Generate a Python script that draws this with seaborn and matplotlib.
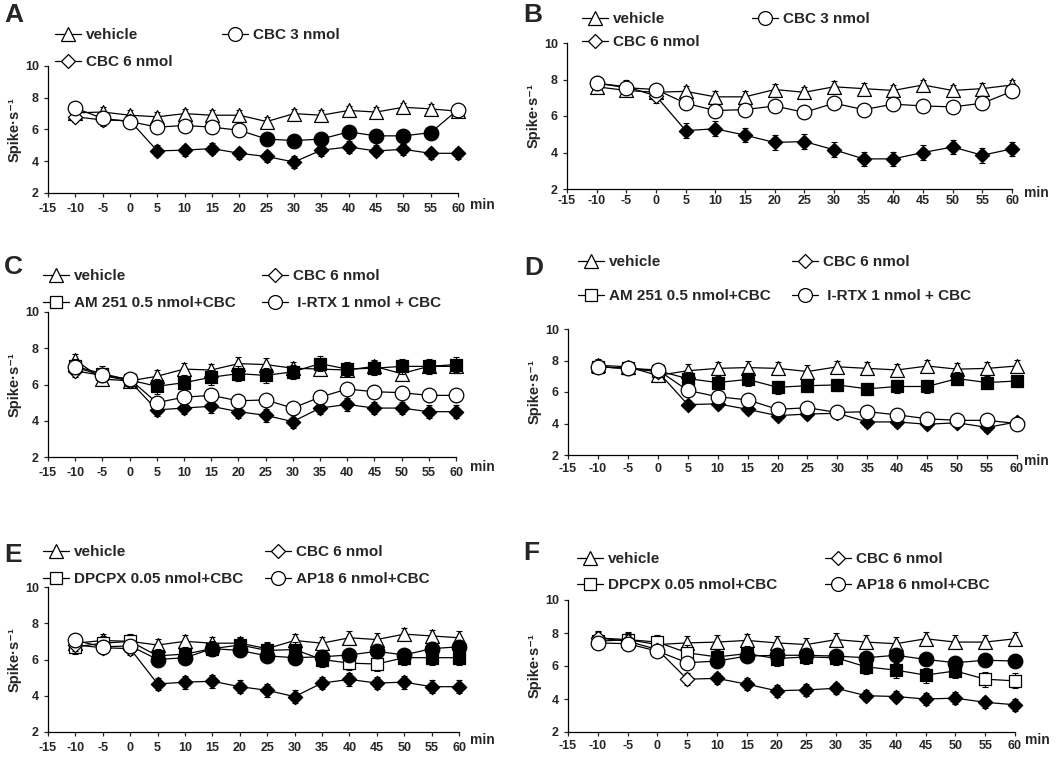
import numpy as np
import pandas as pd
import matplotlib
matplotlib.use('Agg')
import matplotlib.pyplot as plt
from matplotlib.lines import Line2D
from matplotlib.legend import Legend
import seaborn as sns

# time points (min)
t = [-10, -5, 0, 5, 10, 15, 20, 25, 30, 35, 40, 45, 50, 55, 60]

# Panel A
a_veh = [7.05, 7.1, 6.9, 6.8, 7.0, 6.9, 6.9, 6.5, 7.0, 6.9, 7.2, 7.1, 7.4, 7.3, 7.15]
a_cbc3 = [7.35, 6.7, 6.5, 6.15, 6.25, 6.15, 5.95, 5.4, 5.3, 5.4, 5.85, 5.6, 5.6, 5.8, 7.25]
a_cbc6 = [6.8, 6.6, 6.55, 4.65, 4.7, 4.8, 4.5, 4.3, 3.95, 4.7, 4.9, 4.65, 4.75, 4.5, 4.5]
a_cbc3_sig = [0, 0, 0, 0, 0, 0, 0, 1, 1, 1, 1, 1, 1, 1, 0]
a_cbc6_sig = [0, 0, 0, 1, 1, 1, 1, 1, 1, 1, 1, 1, 1, 1, 1]

# Panel B
b_veh = [7.6, 7.4, 7.3, 7.35, 7.05, 7.05, 7.45, 7.3, 7.6, 7.5, 7.4, 7.7, 7.4, 7.5, 7.7]
b_cbc3 = [7.8, 7.55, 7.45, 6.7, 6.3, 6.35, 6.55, 6.2, 6.7, 6.35, 6.65, 6.55, 6.5, 6.7, 7.35]
b_cbc6 = [7.8, 7.6, 7.1, 5.2, 5.3, 4.95, 4.55, 4.6, 4.15, 3.65, 3.65, 4.0, 4.3, 3.85, 4.2]
b_cbc6_sig = [0, 0, 0, 1, 1, 1, 1, 1, 1, 1, 1, 1, 1, 1, 1]

# Panel C
c_veh = [7.35, 6.3, 6.2, 6.45, 6.85, 6.8, 7.15, 7.1, 6.9, 6.85, 6.8, 7.0, 6.6, 7.0, 7.0]
c_cbc6 = [6.75, 6.5, 6.2, 4.6, 4.7, 4.8, 4.5, 4.3, 3.95, 4.7, 4.9, 4.7, 4.7, 4.5, 4.5]
c_am = [7.0, 6.6, 6.25, 5.9, 6.1, 6.4, 6.6, 6.5, 6.7, 7.15, 6.85, 6.9, 7.0, 7.0, 7.1]
c_rtx = [6.95, 6.5, 6.3, 5.0, 5.3, 5.4, 5.1, 5.15, 4.7, 5.3, 5.75, 5.6, 5.55, 5.4, 5.4]
c_cbc6_sig = [0, 0, 0, 1, 1, 1, 1, 1, 1, 1, 1, 1, 1, 1, 1]
c_am_sig = [0, 0, 0, 1, 1, 1, 1, 1, 1, 1, 1, 1, 1, 1, 1]

# Panel D
d_veh = [7.7, 7.6, 7.05, 7.35, 7.5, 7.55, 7.5, 7.3, 7.6, 7.5, 7.4, 7.65, 7.45, 7.5, 7.65]
d_cbc6 = [7.6, 7.5, 7.3, 5.2, 5.25, 4.9, 4.5, 4.6, 4.65, 4.1, 4.1, 3.95, 4.05, 3.75, 4.1]
d_am = [7.6, 7.5, 7.35, 6.85, 6.6, 6.8, 6.3, 6.4, 6.45, 6.2, 6.35, 6.35, 6.85, 6.6, 6.7]
d_rtx = [7.6, 7.5, 7.4, 6.1, 5.7, 5.5, 4.9, 5.0, 4.7, 4.75, 4.55, 4.3, 4.2, 4.2, 4.0]
d_cbc6_sig = [0, 0, 0, 1, 1, 1, 1, 1, 1, 1, 1, 1, 1, 1, 1]
d_am_sig = [0, 0, 0, 1, 1, 1, 1, 1, 1, 1, 1, 1, 1, 1, 1]

# Panel E
e_veh = [6.9, 7.05, 7.0, 6.8, 7.0, 6.9, 6.9, 6.6, 7.05, 6.9, 7.2, 7.1, 7.4, 7.3, 7.2]
e_cbc6 = [6.8, 6.65, 6.6, 4.65, 4.75, 4.8, 4.5, 4.3, 3.95, 4.7, 4.9, 4.7, 4.75, 4.5, 4.5]
e_dp = [6.7, 6.9, 7.0, 6.2, 6.3, 6.6, 6.8, 6.5, 6.55, 6.0, 5.8, 5.75, 6.1, 6.1, 6.1]
e_ap = [7.05, 6.7, 6.75, 6.0, 6.1, 6.6, 6.5, 6.2, 6.1, 6.15, 6.25, 6.45, 6.25, 6.6, 6.7]
e_cbc6_sig = [0, 0, 0, 1, 1, 1, 1, 1, 1, 1, 1, 1, 1, 1, 1]
e_dp_sig = [0, 0, 0, 1, 1, 1, 1, 1, 1, 1, 0, 0, 1, 1, 1]
e_ap_sig = [0, 0, 0, 1, 1, 1, 1, 1, 1, 1, 1, 1, 1, 1, 1]

# Panel F
f_veh = [7.7, 7.6, 7.3, 7.4, 7.45, 7.55, 7.4, 7.3, 7.6, 7.45, 7.35, 7.65, 7.45, 7.45, 7.65]
f_cbc6 = [7.7, 7.5, 7.0, 5.2, 5.25, 4.9, 4.5, 4.55, 4.65, 4.2, 4.15, 4.0, 4.05, 3.8, 3.65]
f_dp = [7.5, 7.6, 7.45, 6.8, 6.55, 6.75, 6.45, 6.55, 6.5, 5.95, 5.75, 5.45, 5.7, 5.2, 5.1]
f_ap = [7.4, 7.35, 6.9, 6.2, 6.3, 6.6, 6.65, 6.65, 6.6, 6.5, 6.65, 6.4, 6.2, 6.35, 6.3]
f_cbc6_sig = [0, 0, 0, 0, 1, 1, 1, 1, 1, 1, 1, 1, 1, 1, 1]
f_dp_sig = [0, 0, 0, 0, 1, 1, 1, 1, 1, 1, 1, 1, 1, 0, 0]
f_ap_sig = [0, 0, 0, 0, 1, 1, 1, 1, 1, 1, 1, 1, 1, 1, 1]

none_sig = [0] * 15

lbl_veh = 'vehicle'
lbl_cbc3 = 'CBC 3 nmol'
lbl_cbc6 = 'CBC 6 nmol'
lbl_am = 'AM 251 0.5 nmol+CBC'
lbl_rtx = ' I-RTX 1 nmol + CBC'
lbl_dp = 'DPCPX 0.05 nmol+CBC'
lbl_ap = 'AP18 6 nmol+CBC'

# marker style per group: (marker, size)
MK = {'tri': ('^', 10), 'dia': ('D', 7.3), 'sq': ('s', 9), 'cir': ('o', 10.5)}

# (values, sem, sig flags, marker key, label)
panels = [
    ('A', [(a_veh, 0.3, none_sig, 'tri', lbl_veh), (a_cbc6, 0.35, a_cbc6_sig, 'dia', lbl_cbc6),
           (a_cbc3, 0.3, a_cbc3_sig, 'cir', lbl_cbc3)]),
    ('B', [(b_veh, 0.3, none_sig, 'tri', lbl_veh), (b_cbc6, 0.4, b_cbc6_sig, 'dia', lbl_cbc6),
           (b_cbc3, 0.3, none_sig, 'cir', lbl_cbc3)]),
    ('C', [(c_veh, 0.35, none_sig, 'tri', lbl_veh), (c_am, 0.4, c_am_sig, 'sq', lbl_am),
           (c_cbc6, 0.35, c_cbc6_sig, 'dia', lbl_cbc6), (c_rtx, 0.35, none_sig, 'cir', lbl_rtx)]),
    ('D', [(d_veh, 0.4, none_sig, 'tri', lbl_veh), (d_am, 0.4, d_am_sig, 'sq', lbl_am),
           (d_cbc6, 0.3, d_cbc6_sig, 'dia', lbl_cbc6), (d_rtx, 0.35, none_sig, 'cir', lbl_rtx)]),
    ('E', [(e_veh, 0.35, none_sig, 'tri', lbl_veh), (e_dp, 0.4, e_dp_sig, 'sq', lbl_dp),
           (e_cbc6, 0.35, e_cbc6_sig, 'dia', lbl_cbc6), (e_ap, 0.35, e_ap_sig, 'cir', lbl_ap)]),
    ('F', [(f_veh, 0.4, none_sig, 'tri', lbl_veh), (f_dp, 0.45, f_dp_sig, 'sq', lbl_dp),
           (f_cbc6, 0.35, f_cbc6_sig, 'dia', lbl_cbc6), (f_ap, 0.35, f_ap_sig, 'cir', lbl_ap)]),
]

# layout in pixels
W, H = 1063, 757
ax_px = [(48, 66, 458, 193), (567, 43, 1012, 189), (48, 312, 456, 457),
         (568, 329, 1017, 455), (48, 587, 459, 732), (568, 600, 1015, 732)]
leg_px = [(55, 222, 35, 62), (582, 752, 19, 42), (43, 262, 276, 303),
          (578, 792, 262, 296), (43, 265, 552, 579), (577, 825, 559, 585)]
min_px = [(470, 205), (1024, 193), (470, 467), (1024, 461), (470, 740), (1025, 740)]
letter_px = [(4, 3), (523, 3), (4, 255), (524, 256), (4, 543), (523, 541)]
xpad = [4.5, 1, 4.5, 3, 4.5, 3]

sns.set_style('ticks')
plt.rcParams['font.family'] = ['Liberation Sans', 'DejaVu Sans']
plt.rcParams['font.weight'] = 'bold'
plt.rcParams['axes.unicode_minus'] = False

fig = plt.figure(figsize=(W / 100, H / 100), dpi=100)


def fx(x):
    return x / W


def fy(y):
    return 1 - y / H


for i, (letter, series) in enumerate(panels):
    l, tp, r, b = ax_px[i]
    ax = fig.add_axes([fx(l), fy(b), (r - l) / W, (b - tp) / H])
    handles = []
    for z, (vals, sem, sig, mk, lab) in enumerate(series):
        marker, ms = MK[mk]
        df = pd.DataFrame({'t': t, 'rate': vals, 'sig': sig})
        ax.errorbar(df['t'], df['rate'], yerr=sem, fmt='none', ecolor='black',
                    elinewidth=0.8, capsize=2.2, capthick=0.8, zorder=2 + z)
        sns.lineplot(data=df, x='t', y='rate', ax=ax, color='black', linewidth=0.9,
                     zorder=2 + z, legend=False)
        for flag, face in [(0, 'white'), (1, 'black')]:
            sub = df[df['sig'] == flag]
            if len(sub):
                sns.scatterplot(data=sub, x='t', y='rate', ax=ax, marker=marker, s=ms ** 2,
                                color=face, edgecolor='black', linewidth=0.9,
                                zorder=2.5 + z, legend=False)
        handles.append((Line2D([0], [0], color='black', lw=0.9, marker=marker, ms=ms * 0.95,
                               mfc='white', mec='black', mew=0.9), lab))
    for art in ax.lines + ax.collections:
        art.set_clip_on(False)

    ax.set_xlim(-15, 60)
    ax.set_ylim(2, 10)
    ax.set_xticks(range(-15, 61, 5))
    ax.set_yticks([2, 4, 6, 8, 10])
    ax.set_xlabel('')
    ax.set_ylabel('Spike·s⁻¹', fontsize=10.5, fontweight='bold')
    ax.yaxis.set_label_coords(-26 / (r - l), 0.5)
    ax.tick_params(axis='both', direction='out', length=3, width=0.9, labelsize=9)
    ax.tick_params(axis='x', pad=xpad[i])
    for lbl in ax.get_xticklabels() + ax.get_yticklabels():
        lbl.set_fontweight('bold')
    sns.despine(ax=ax)
    for sp in ['left', 'bottom']:
        ax.spines[sp].set_linewidth(0.9)
        ax.spines[sp].set_color('black')

    # legend entries: column 1 then column 2, two rows each
    c1, c2, r1, r2 = leg_px[i]
    slots = [(c1, r1), (c1, r2), (c2, r1), (c2, r2)]
    for (h, lab), (lx, ly) in zip(handles, slots):
        leg = Legend(ax, [h], [lab], loc='center left', bbox_to_anchor=(fx(lx), fy(ly)),
                     bbox_transform=fig.transFigure, frameon=False, borderpad=0,
                     borderaxespad=0, handlelength=1.7, handletextpad=0.35,
                     prop={'size': 11, 'weight': 'bold'})
        ax.add_artist(leg)

    mx, my = min_px[i]
    fig.text(fx(mx), fy(my), 'min', fontsize=10, fontweight='bold', ha='left', va='center')
    lx, ly = letter_px[i]
    fig.text(fx(lx), fy(ly), letter, fontsize=19, fontweight='bold', ha='left', va='top')

fig.savefig('out.png', dpi=100, facecolor='white')
